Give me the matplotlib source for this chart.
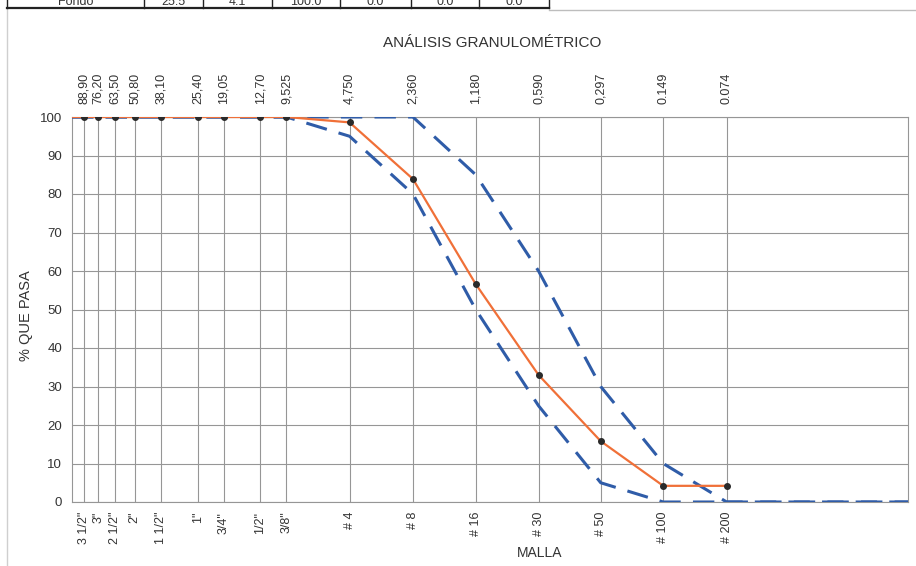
import matplotlib
matplotlib.use('Agg')
import matplotlib.pyplot as plt
from matplotlib.ticker import NullLocator

plt.rcParams['font.family'] = ['Liberation Sans', 'DejaVu Sans']

# sieve openings (mm) and names
sieve_mm = [88.90, 76.20, 63.50, 50.80, 38.10, 25.40, 19.05, 12.70, 9.525,
            4.750, 2.360, 1.180, 0.590, 0.297, 0.149, 0.074]
mm_labels = ['88,90', '76,20', '63,50', '50,80', '38,10', '25,40', '19,05', '12,70', '9,525',
             '4,750', '2,360', '1,180', '0,590', '0,297', '0.149', '0.074']
mesh_labels = ['3 1/2"', '3"', '2 1/2"', '2"', '1 1/2"', '1"', '3/4"', '1/2"', '3/8"',
               '# 4', '# 8', '# 16', '# 30', '# 50', '# 100', '# 200']

# % passing of the sample
passing = [100, 100, 100, 100, 100, 100, 100, 100, 100,
           98.6, 83.9, 56.6, 33.0, 15.8, 4.2, 4.2]

# specification limits
lower_mm = [101.6, 9.525, 4.750, 2.360, 1.180, 0.590, 0.297, 0.149, 0.01]
lower_pct = [100, 100, 95, 80, 50, 25, 5, 0, 0]
upper_mm = [101.6, 2.360, 1.180, 0.590, 0.297, 0.149, 0.074, 0.01]
upper_pct = [100, 100, 85, 60, 30, 10, 0, 0]

# row of the table above the chart (cut by the page edge)
table_row = ['Fondo', '25.5', '4.1', '100.0', '0.0', '0.0', '0.0']
table_edges = [7, 144, 203, 272, 340, 411, 479, 549]

W, H = 916, 566
fig = plt.figure(figsize=(W / 100, H / 100), dpi=100)

ax = fig.add_axes([72 / W, 1 - 502 / H, 836 / W, 385 / H])
ax.set_xscale('log')
ax.set_xlim(101.6, 0.01)
ax.set_ylim(0, 100)
ax.set_yticks(range(0, 101, 10))
ax.set_xticks(sieve_mm)
ax.set_xticklabels(mesh_labels, rotation=90)
ax.xaxis.set_minor_locator(NullLocator())
ax.grid(True, color='#969696', lw=0.8)
ax.set_axisbelow(True)
ax.tick_params(axis='x', length=0, pad=7, labelsize=9, colors='#333333')
ax.tick_params(axis='y', length=0, pad=7, labelsize=9.5, colors='#333333')
for s in ax.spines.values():
    s.set_color('#969696')
    s.set_linewidth(0.8)

ax2 = ax.twiny()
ax2.set_xscale('log')
ax2.set_xlim(ax.get_xlim())
ax2.set_xticks(sieve_mm)
ax2.set_xticklabels(mm_labels, rotation=90)
ax2.xaxis.set_minor_locator(NullLocator())
ax2.tick_params(axis='x', length=0, pad=9, labelsize=9, colors='#333333')
for s in ax2.spines.values():
    s.set_visible(False)

blue = '#2f5ca8'
ax.plot(lower_mm, lower_pct, color=blue, lw=2.2, dashes=(7, 4), zorder=3)
ax.plot(upper_mm, upper_pct, color=blue, lw=2.2, dashes=(7, 4), zorder=3)
ax.plot([101.6] + sieve_mm, [100] + passing, color='#f07038', lw=1.6, zorder=4)
ax.plot(sieve_mm, passing, ls='none', marker='o', ms=4, color='#2a2a2a', zorder=5)

ax.set_ylabel('% QUE PASA', fontsize=10.5, color='#333333')
ax.set_xlabel('MALLA', fontsize=10, color='#333333')
ax.xaxis.set_label_coords(468 / 836, -44 / 385)
ax.yaxis.set_label_coords(-39 / 836, 0.485)

# page decorations, in pixel coordinates
page = fig.add_axes([0, 0, 1, 1], zorder=-1)
page.set_xlim(0, W)
page.set_ylim(H, 0)
page.axis('off')
page.text(492, 43, 'ANÁLISIS GRANULOMÉTRICO', fontsize=11, color='#333333',
          ha='center', va='center')
page.plot([7, 7], [8, H], color='#cfcfcf', lw=1)
page.plot([549, W], [10, 10], color='#bdbdbd', lw=1)
page.plot([table_edges[0], table_edges[-1]], [8, 8], color='#222222', lw=1.6)
for e in table_edges:
    page.plot([e, e], [0, 8], color='#222222', lw=1)
for i, txt in enumerate(table_row):
    xc = (table_edges[i] + table_edges[i + 1]) / 2
    page.text(xc, 5, txt, fontsize=9, color='#333333', ha='center', va='baseline')

fig.savefig('out.png', dpi=100)
